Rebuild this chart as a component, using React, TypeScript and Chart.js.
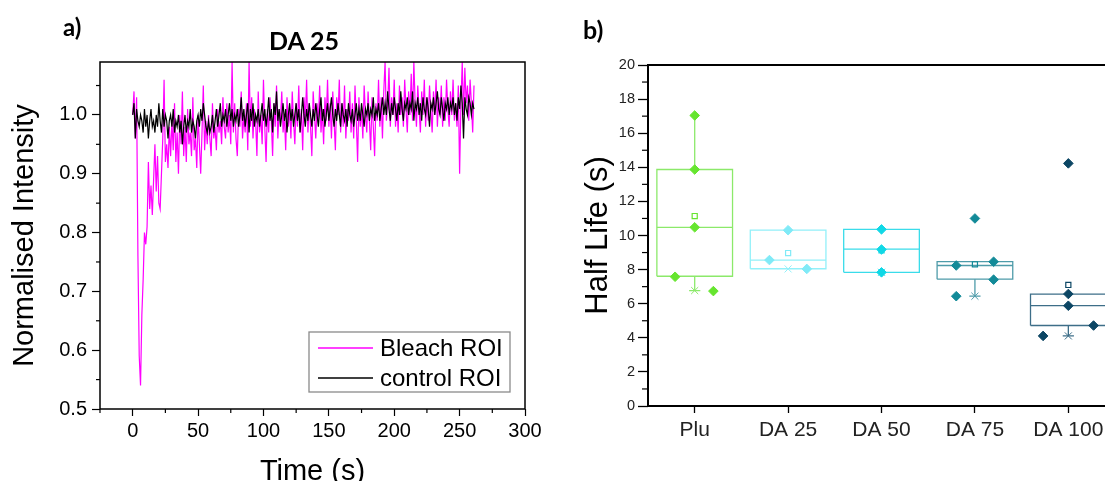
import React, { useEffect, useRef } from 'react';
import { Chart, registerables } from 'chart.js';

Chart.register(...registerables);

// ---------- Panel a data: normalised intensity traces (one sample per second) ----------
const sampleInterval = 1; // seconds between samples

const bleachROI = [
  1.00, 1.04, 0.96, 1.03, 0.76, 0.59, 0.54, 0.66, 0.72, 0.80,
  0.78, 0.81, 0.92, 0.84, 0.88, 0.83, 0.89, 0.95, 0.87, 0.93,
  0.85, 0.84, 0.90, 0.96, 1.06, 0.92, 0.95, 0.91, 0.98, 0.93,
  0.99, 0.94, 1.02, 0.92, 0.97, 0.90, 1.00, 0.95, 1.04, 0.93,
  0.98, 0.92, 1.01, 0.95, 0.97, 0.93, 1.03, 0.94, 0.96, 0.91,
  1.00, 0.95, 0.90, 0.97, 1.05, 0.94, 0.99, 0.95, 1.00, 0.96,
  0.93, 1.02, 0.96, 0.98, 0.94, 1.01, 0.97, 0.99, 0.95, 1.03,
  0.98, 0.96, 1.02, 0.97, 1.00, 0.95, 1.09, 0.97, 1.02, 0.96,
  0.93, 1.01, 0.98, 1.04, 0.96, 1.00, 0.97, 1.02, 0.94, 1.09,
  0.98, 1.03, 0.96, 1.01, 0.99, 0.93, 1.04, 0.97, 1.00, 0.95,
  1.06, 0.98, 0.92, 1.01, 0.97, 1.03, 0.99, 0.93, 1.02, 0.98,
  1.05, 0.96, 1.01, 0.99, 1.04, 0.97, 1.00, 0.94, 1.03, 0.98,
  1.01, 0.96, 1.04, 0.99, 0.95, 1.02, 0.98, 1.05, 0.97, 1.01,
  0.94, 1.03, 0.99, 1.06, 0.97, 1.02, 0.98, 0.93, 1.04, 1.00,
  0.96, 1.02, 0.99, 1.05, 0.97, 1.01, 0.95, 1.03, 0.99, 1.06,
  0.98, 1.02, 0.96, 1.04, 0.99, 0.94, 1.03, 1.00, 1.06, 0.97,
  1.02, 0.98, 1.05, 0.96, 1.01, 0.99, 1.04, 0.97, 1.02, 0.96,
  1.05, 0.99, 0.92, 1.03, 0.98, 1.01, 0.96, 1.05, 1.00, 0.97,
  1.04, 0.99, 0.94, 1.03, 0.98, 0.93, 1.02, 0.99, 1.06, 0.98,
  1.03, 0.96, 1.04, 1.09, 0.99, 1.02, 1.08, 0.98, 1.03, 1.00,
  1.06, 0.98, 1.02, 0.97, 1.05, 1.00, 1.03, 0.98, 1.06, 1.01,
  0.97, 1.04, 1.00, 1.07, 0.99, 1.09, 1.02, 0.98, 1.05, 1.01,
  0.97, 1.04, 1.00, 1.06, 0.98, 1.03, 0.99, 1.05, 1.01, 0.97,
  1.04, 1.00, 1.06, 0.98, 1.03, 1.00, 1.05, 0.98, 1.03, 0.99,
  1.06, 1.01, 0.98, 1.04, 1.00, 1.06, 0.99, 1.02, 0.98, 1.05,
  0.90, 1.02, 1.09, 1.00, 1.08, 1.02, 1.05, 0.99, 1.06, 1.02,
  0.97, 1.05,
];

const controlROI = [
  1.00, 1.02, 0.96, 1.01, 0.99, 0.98, 1.00, 0.99, 0.97, 1.01,
  0.98, 1.00, 0.96, 0.99, 1.01, 0.98, 0.99, 0.97, 1.00, 0.98,
  1.02, 0.99, 0.97, 1.01, 0.98, 1.00, 0.99, 0.96, 0.99, 1.00,
  0.98, 1.01, 0.97, 0.99, 0.98, 1.00, 0.97, 0.99, 0.95, 0.98,
  1.00, 0.97, 0.99, 0.98, 1.01, 0.97, 0.99, 0.98, 0.96, 0.99,
  1.00, 0.98, 1.01, 0.99, 1.02, 1.00, 0.98, 0.97, 0.99, 0.97,
  0.98, 1.00, 0.97, 0.99, 1.01, 0.98, 1.00, 1.02, 0.98, 1.00,
  0.99, 1.01, 0.98, 1.00, 1.02, 0.99, 1.01, 0.98, 1.00, 0.99,
  1.01, 0.98, 1.00, 1.03, 0.99, 1.01, 0.98, 1.00, 1.02, 0.97,
  1.01, 0.99, 1.02, 0.98, 1.00, 0.99, 1.01, 0.98, 1.00, 1.02,
  0.99, 1.01, 0.98, 1.00, 1.03, 0.99, 1.01, 0.97, 1.02, 1.00,
  1.04, 0.99, 1.01, 0.98, 1.00, 1.02, 0.99, 1.01, 0.97, 1.00,
  1.02, 0.99, 1.01, 0.98, 1.00, 1.02, 0.99, 1.01, 0.97, 1.00,
  1.03, 1.00, 0.98, 1.01, 0.99, 1.02, 1.00, 0.98, 1.01, 0.99,
  1.02, 1.00, 0.98, 1.01, 1.03, 0.99, 1.01, 0.98, 1.00, 1.02,
  0.99, 1.01, 1.03, 1.00, 0.98, 1.01, 0.99, 1.02, 1.00, 0.98,
  1.02, 1.00, 0.99, 1.01, 0.98, 1.02, 1.00, 0.99, 1.01, 0.98,
  1.00, 1.02, 0.99, 1.01, 0.99, 1.02, 1.00, 0.98, 1.01, 1.00,
  1.02, 0.99, 1.01, 1.00, 1.03, 0.99, 1.01, 1.00, 1.02, 0.99,
  1.01, 1.03, 1.00, 1.02, 1.00, 1.04, 1.01, 0.99, 1.02, 1.00,
  1.03, 1.01, 0.99, 1.02, 1.00, 1.04, 1.01, 0.99, 1.02, 1.01,
  1.03, 1.00, 1.02, 1.01, 1.04, 0.99, 1.02, 1.01, 1.03, 1.00,
  1.02, 0.99, 1.03, 1.01, 1.00, 1.03, 1.01, 0.98, 1.02, 1.01,
  1.03, 1.00, 1.02, 1.04, 1.01, 1.00, 1.03, 1.01, 0.99, 1.02,
  1.01, 1.03, 1.00, 1.02, 1.01, 1.03, 1.00, 1.02, 0.99, 1.03,
  1.01, 1.05, 1.02, 0.96, 1.03, 1.01, 1.00, 1.03, 1.02, 1.00,
  1.02, 1.01,
];

const seriesNames = ['Bleach ROI', 'control ROI'];

// ---------- Panel b data: half-life box plots ----------
const categories = ['Plu', 'DA 25', 'DA 50', 'DA 75', 'DA 100'];

const pluHalfLife = [17.04, 13.87, 10.48, 7.58, 6.74];
const da25HalfLife = [10.31, 8.56, 8.04];
const da50HalfLife = [10.36, 9.18, 7.84];
const da75HalfLife = [11.0, 8.24, 8.46, 7.41, 6.44];
const da100HalfLife = [14.23, 6.57, 5.88, 4.72, 4.11];
const halfLifeValues = [pluHalfLife, da25HalfLife, da50HalfLife, da75HalfLife, da100HalfLife];

const boxQ1 = [7.61, 8.05, 7.84, 7.44, 4.72];
const boxMedian = [10.48, 8.56, 9.2, 8.24, 5.89];
const boxQ3 = [13.87, 10.31, 10.36, 8.47, 6.56];
const boxMean = [11.14, 8.97, 9.13, 8.31, 7.1];
const boxWhiskerLow = [6.77, 8.05, 7.84, 6.44, 4.11];
const boxWhiskerHigh = [17.04, 10.31, 10.36, 8.47, 6.56];
const boxMin = [6.77, 8.04, 7.84, 6.44, 4.11];

// styling (horizontal jitter of the overlaid points, colours)
const pointJitter = [
  [0, 0, 0, -0.21, 0.2],
  [0, -0.2, 0.2],
  [0, 0, 0],
  [0, -0.2, 0.2, 0.2, -0.2],
  [0, 0, 0, 0.27, -0.27],
];
const markerColors = ['#66E52F', '#80EAF7', '#10D8E6', '#128A98', '#0C4664'];
const boxColors = ['#8CE96A', '#92F0F9', '#3ADCEA', '#4E9BA9', '#3D6E88'];

const SANS = "'Liberation Sans', Arial, sans-serif";
const BOLD = "Lato, 'Liberation Sans', Arial, sans-serif";

// ---------- plugins ----------
const minorTicksPlugin = {
  id: 'minorTicks',
  afterDraw(chart: any, _args: any, opts: any) {
    const ctx = chart.ctx;
    const axes = opts.axes || {};
    ctx.save();
    ctx.strokeStyle = opts.color || '#000';
    ctx.lineWidth = opts.width || 1;
    Object.keys(axes).forEach((id) => {
      const cfg = axes[id];
      const scale = chart.scales[id];
      if (!scale) return;
      const start = Math.ceil(scale.min / cfg.step - 1e-9);
      const end = Math.floor(scale.max / cfg.step + 1e-9);
      for (let k = start; k <= end; k++) {
        const v = k * cfg.step;
        const r = v / cfg.major;
        if (Math.abs(r - Math.round(r)) < 1e-6) continue;
        const p = scale.getPixelForValue(v);
        ctx.beginPath();
        if (scale.isHorizontal()) {
          const y = chart.chartArea.bottom;
          ctx.moveTo(p, y);
          ctx.lineTo(p, y + cfg.len);
        } else {
          const x = chart.chartArea.left;
          ctx.moveTo(x, p);
          ctx.lineTo(x - cfg.len, p);
        }
        ctx.stroke();
      }
    });
    ctx.restore();
  },
};

const framePlugin = {
  id: 'frame',
  afterDraw(chart: any, _args: any, opts: any) {
    const { left, top, right, bottom } = chart.chartArea;
    const ctx = chart.ctx;
    ctx.save();
    ctx.strokeStyle = opts.color || '#000';
    ctx.lineWidth = opts.width || 1.5;
    ctx.strokeRect(left, top, right - left, bottom - top);
    ctx.restore();
  },
};

const boxLegendPlugin = {
  id: 'boxLegend',
  afterDraw(chart: any, _args: any, opts: any) {
    if (!opts || !opts.items) return;
    const ctx = chart.ctx;
    const { right, bottom } = chart.chartArea;
    const w = 201, h = 60;
    const bx = right - 15 - w;
    const by = bottom - 17 - h;
    ctx.save();
    ctx.fillStyle = '#fff';
    ctx.fillRect(bx, by, w, h);
    ctx.strokeStyle = '#8a8a8a';
    ctx.lineWidth = 1.3;
    ctx.strokeRect(bx, by, w, h);
    ctx.font = `24px ${SANS}`;
    ctx.textBaseline = 'middle';
    ctx.textAlign = 'left';
    opts.items.forEach((it: any, k: number) => {
      const cy = by + 16 + k * 30;
      ctx.strokeStyle = it.color;
      ctx.lineWidth = 1.5;
      ctx.beginPath();
      ctx.moveTo(bx + 9, cy);
      ctx.lineTo(bx + 64, cy);
      ctx.stroke();
      ctx.fillStyle = '#000';
      ctx.fillText(it.text, bx + 71, cy + 1);
    });
    ctx.restore();
  },
};

// ---------- chart configs ----------
function buildConfigA(): any {
  const toXY = (arr: number[]) => arr.map((v, i) => ({ x: i * sampleInterval, y: v }));
  return {
    type: 'scatter',
    data: {
      datasets: [
        {
          label: seriesNames[0],
          data: toXY(bleachROI),
          showLine: true,
          borderColor: '#FF00FF',
          borderWidth: 1.2,
          pointRadius: 0,
          pointHoverRadius: 0,
          order: 2,
        },
        {
          label: seriesNames[1],
          data: toXY(controlROI),
          showLine: true,
          borderColor: '#000000',
          borderWidth: 1.2,
          pointRadius: 0,
          pointHoverRadius: 0,
          order: 1,
        },
      ],
    },
    options: {
      responsive: false,
      animation: false,
      events: [],
      layout: { padding: { left: 0, top: 62, right: 35, bottom: 0 } },
      plugins: {
        legend: { display: false },
        tooltip: { enabled: false },
        title: { display: false },
        frame: { color: '#000', width: 1.5 },
        minorTicks: {
          color: '#000',
          width: 1.2,
          axes: { x: { step: 25, major: 50, len: 4 }, y: { step: 0.05, major: 0.1, len: 4 } },
        },
        boxLegend: {
          items: [
            { text: seriesNames[0], color: '#FF00FF' },
            { text: seriesNames[1], color: '#000000' },
          ],
        },
      },
      scales: {
        x: {
          type: 'linear',
          min: -25,
          max: 300,
          afterFit(s: any) { s.height = 91; },
          ticks: {
            stepSize: 50,
            includeBounds: false,
            maxRotation: 0,
            autoSkip: false,
            padding: 3,
            color: '#000',
            font: { family: SANS, size: 20 },
          },
          grid: { drawOnChartArea: false, drawTicks: true, tickLength: 7, tickColor: '#000', tickWidth: 1.2 },
          border: { display: false },
          title: {
            display: true,
            text: 'Time (s)',
            color: '#000',
            font: { family: SANS, size: 29 },
            padding: { top: 0, bottom: 10.6 },
          },
        },
        y: {
          type: 'linear',
          min: 0.5,
          max: 1.09,
          afterFit(s: any) { s.width = 100; },
          ticks: {
            stepSize: 0.1,
            includeBounds: false,
            padding: 5,
            color: '#000',
            font: { family: SANS, size: 20 },
            callback: (v: number) => v.toFixed(1),
          },
          grid: { drawOnChartArea: false, drawTicks: true, tickLength: 8, tickColor: '#000', tickWidth: 1.2 },
          border: { display: false },
          title: {
            display: true,
            text: 'Normalised Intensity',
            color: '#000',
            font: { family: SANS, size: 29 },
            padding: { top: 7.6, bottom: 0 },
          },
        },
      },
    },
    plugins: [minorTicksPlugin, framePlugin, boxLegendPlugin],
  };
}

function buildConfigB(): any {
  const boxHalf = 0.405;
  const capHalf = 0.06;
  const datasets: any[] = [];
  const line = (pts: { x: number; y: number }[], color: string, width = 1.3) => ({
    data: pts,
    showLine: true,
    borderColor: color,
    borderWidth: width,
    pointRadius: 0,
    pointHoverRadius: 0,
    fill: false,
    order: 3,
  });
  categories.forEach((_cat, i) => {
    const mc = markerColors[i];
    const bc = boxColors[i];
    datasets.push(
      line(
        [
          { x: i - boxHalf, y: boxQ1[i] },
          { x: i + boxHalf, y: boxQ1[i] },
          { x: i + boxHalf, y: boxQ3[i] },
          { x: i - boxHalf, y: boxQ3[i] },
          { x: i - boxHalf, y: boxQ1[i] },
        ],
        bc
      )
    );
    datasets.push(line([{ x: i - boxHalf, y: boxMedian[i] }, { x: i + boxHalf, y: boxMedian[i] }], bc));
    if (boxWhiskerHigh[i] > boxQ3[i]) {
      datasets.push(line([{ x: i, y: boxQ3[i] }, { x: i, y: boxWhiskerHigh[i] }], bc));
    }
    if (boxWhiskerLow[i] < boxQ1[i]) {
      datasets.push(line([{ x: i, y: boxQ1[i] }, { x: i, y: boxWhiskerLow[i] }], bc));
      datasets.push(line([{ x: i - capHalf, y: boxWhiskerLow[i] }, { x: i + capHalf, y: boxWhiskerLow[i] }], bc));
    }
    // min marker (x)
    datasets.push({
      data: [{ x: i, y: boxMin[i] }],
      pointStyle: 'crossRot',
      pointRadius: 5,
      pointBorderColor: bc,
      pointBorderWidth: 1,
      pointHoverRadius: 0,
      order: 2,
    });
    // mean marker (open square)
    datasets.push({
      data: [{ x: i, y: boxMean[i] }],
      pointStyle: 'rect',
      pointRadius: 3.6,
      pointBackgroundColor: 'rgba(255,255,255,0)',
      pointBorderColor: mc,
      pointBorderWidth: 1.2,
      pointHoverRadius: 0,
      order: 2,
    });
    // individual values (diamonds)
    datasets.push({
      label: categories[i],
      data: halfLifeValues[i].map((v, k) => ({ x: i + pointJitter[i][k], y: v })),
      pointStyle: 'rectRot',
      pointRadius: 4.8,
      pointBackgroundColor: mc,
      pointBorderColor: mc,
      pointBorderWidth: 1,
      pointHoverRadius: 0,
      order: 1,
    });
  });

  return {
    type: 'scatter',
    data: { datasets },
    options: {
      responsive: false,
      animation: false,
      events: [],
      layout: { padding: { left: 0, top: 65, right: 7.6, bottom: 0 } },
      plugins: {
        legend: { display: false },
        tooltip: { enabled: false },
        frame: { color: '#000', width: 2 },
        minorTicks: { color: '#000', width: 1.2, axes: { y: { step: 1, major: 2, len: 6 } } },
      },
      scales: {
        x: {
          type: 'linear',
          min: -0.5,
          max: 4.9,
          afterFit(s: any) { s.height = 75; },
          ticks: {
            stepSize: 1,
            includeBounds: false,
            autoSkip: false,
            maxRotation: 0,
            padding: 5,
            color: '#222',
            font: { family: SANS, size: 21 },
            callback: (v: number) => categories[Math.round(v)] ?? '',
          },
          grid: { drawOnChartArea: false, drawTicks: true, tickLength: 7, tickColor: '#000', tickWidth: 1.3 },
          border: { display: false },
        },
        y: {
          type: 'linear',
          min: 0,
          max: 20,
          afterFit(s: any) { s.width = 88; },
          ticks: {
            stepSize: 2,
            includeBounds: false,
            padding: 3,
            color: '#222',
            font: { family: SANS, size: 14.5 },
          },
          grid: { drawOnChartArea: false, drawTicks: true, tickLength: 10, tickColor: '#000', tickWidth: 1.3 },
          border: { display: false },
          title: {
            display: true,
            text: 'Half Life (s)',
            color: '#000',
            font: { family: SANS, size: 31 },
            padding: { top: 19.4, bottom: 0 },
          },
        },
      },
    },
    plugins: [minorTicksPlugin, framePlugin],
  };
}

export default function App() {
  const refA = useRef<HTMLCanvasElement>(null);
  const refB = useRef<HTMLCanvasElement>(null);

  useEffect(() => {
    const chartA = new Chart(refA.current as HTMLCanvasElement, buildConfigA());
    const chartB = new Chart(refB.current as HTMLCanvasElement, buildConfigB());
    return () => {
      chartA.destroy();
      chartB.destroy();
    };
  }, []);

  const labelStyle: React.CSSProperties = {
    position: 'absolute',
    fontFamily: BOLD,
    fontWeight: 700,
    lineHeight: 1,
    color: '#000',
    whiteSpace: 'nowrap',
  };

  return (
    <div
      style={{
        position: 'fixed',
        left: 0,
        top: 0,
        width: 1105,
        height: 481,
        overflow: 'hidden',
        background: '#fff',
      }}
    >
      <canvas
        ref={refA}
        width={560}
        height={500}
        style={{ position: 'absolute', left: 0, top: 0, width: 560, height: 500 }}
      />
      <canvas
        ref={refB}
        width={600}
        height={481}
        style={{ position: 'absolute', left: 560, top: 0, width: 600, height: 481 }}
      />
      <div style={{ ...labelStyle, left: 63, top: 15, fontSize: 24 }}>a)</div>
      <div style={{ ...labelStyle, left: 204, top: 28, width: 200, textAlign: 'center', fontSize: 25 }}>DA 25</div>
      <div style={{ ...labelStyle, left: 583, top: 17, fontSize: 25 }}>b)</div>
    </div>
  );
}
